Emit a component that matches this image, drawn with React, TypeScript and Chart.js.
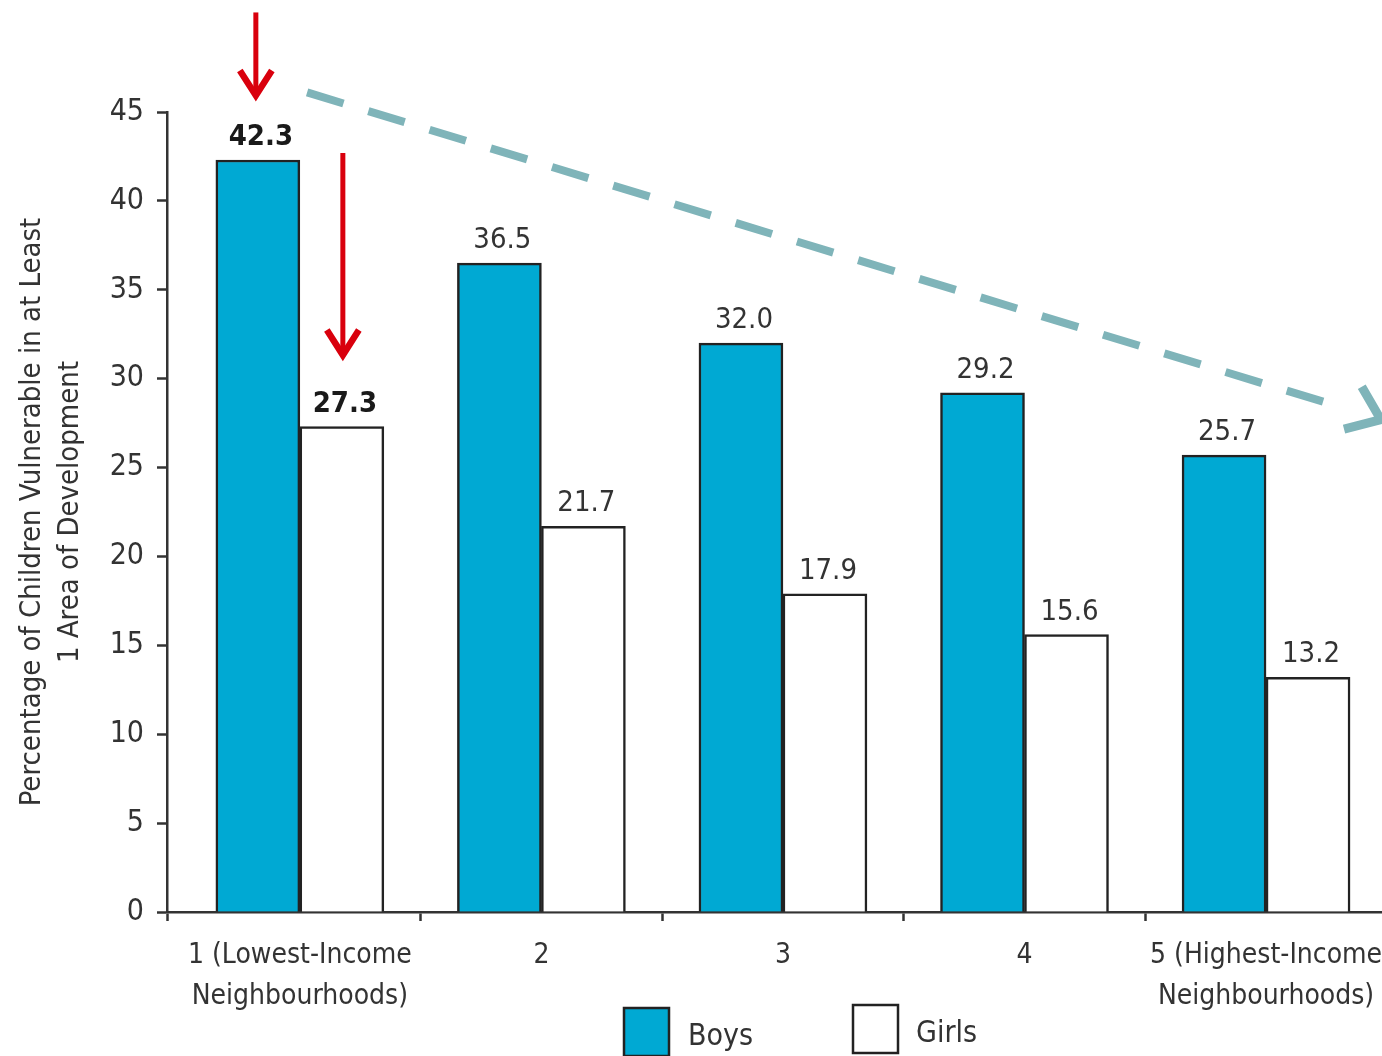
import React, { useEffect, useRef } from "react";
import { Chart, registerables } from "chart.js";

Chart.register(...registerables);

// ---- data ----
const categoryLabels: (string | string[])[] = [
  ["1 (Lowest-Income", "Neighbourhoods)"],
  "2",
  "3",
  "4",
  ["5 (Highest-Income", "Neighbourhoods)"],
];
const categoryPositions = [1, 2, 3, 4, 5];
const seriesNames = ["Boys", "Girls"];
const boysValues = [42.3, 36.5, 32.0, 29.2, 25.7];
const girlsValues = [27.3, 21.7, 17.9, 15.6, 13.2];
const boldLabelIndex = [0];
const yTickValues = [0, 5, 10, 15, 20, 25, 30, 35, 40, 45];
const categoryDividers = [1.5, 2.5, 3.5, 4.5];
const yTitleLines = ["Percentage of Children Vulnerable in at Least", "1 Area of Development"];
// trend arrow (scale units): start and end
const trendArrow = { x0: 1.03, y0: 46.1, x1: 5.475, y1: 27.7 };
// red arrows (y scale units): top, tip
const redArrowBoys = { top: 50.6, tip: 45.7 };
const redArrowGirls = { top: 42.7, tip: 31.1 };

const FONT = "'Liberation Sans Narrow', 'Arial Narrow', 'DejaVu Sans Condensed', sans-serif";
const BOYS_COLOR = "#00a9d3";
const GIRLS_COLOR = "#ffffff";
const EDGE = "#222222";
const TEXT = "#333333";

const overlayPlugin = {
  id: "overlay",
  afterDatasetsDraw(chart: any) {
    const ctx = chart.ctx as CanvasRenderingContext2D;
    const xs = chart.scales.x;
    const ys = chart.scales.y;

    // value labels
    ctx.save();
    ctx.textAlign = "center";
    ctx.textBaseline = "alphabetic";
    chart.data.datasets.forEach((ds: any, di: number) => {
      const meta = chart.getDatasetMeta(di);
      meta.data.forEach((bar: any, i: number) => {
        const v = ds.data[i].y;
        const bold = boldLabelIndex.includes(i);
        ctx.font = `${bold ? "bold " : ""}29px ${FONT}`;
        ctx.fillStyle = bold ? "#1a1a1a" : TEXT;
        ctx.fillText(v.toFixed(1), bar.x + 3, bar.y - 15);
      });
    });
    ctx.restore();

    // red arrows
    const drawRed = (x: number, top: number, tip: number) => {
      const yTop = ys.getPixelForValue(top);
      const yTip = ys.getPixelForValue(tip);
      ctx.save();
      ctx.strokeStyle = "#d9000d";
      ctx.lineWidth = 5;
      ctx.lineCap = "butt";
      ctx.beginPath();
      ctx.moveTo(x, yTop);
      ctx.lineTo(x, yTip - 6);
      ctx.stroke();
      ctx.lineWidth = 6.5;
      ctx.lineJoin = "miter";
      ctx.beginPath();
      ctx.moveTo(x - 16, yTip - 29);
      ctx.lineTo(x, yTip - 4);
      ctx.lineTo(x + 16, yTip - 29);
      ctx.stroke();
      ctx.restore();
    };
    const boysMeta = chart.getDatasetMeta(0);
    const girlsMeta = chart.getDatasetMeta(1);
    drawRed(boysMeta.data[0].x - 2, redArrowBoys.top, redArrowBoys.tip);
    drawRed(girlsMeta.data[0].x + 1, redArrowGirls.top, redArrowGirls.tip);

    // dashed trend arrow
    const ax0 = xs.getPixelForValue(trendArrow.x0);
    const ay0 = ys.getPixelForValue(trendArrow.y0);
    const ax1 = xs.getPixelForValue(trendArrow.x1);
    const ay1 = ys.getPixelForValue(trendArrow.y1);
    ctx.save();
    ctx.strokeStyle = "#7fb4b9";
    ctx.lineWidth = 8;
    ctx.setLineDash([38, 26]);
    ctx.beginPath();
    ctx.moveTo(ax0, ay0);
    ctx.lineTo(ax1 - 45, ay1 - 14);
    ctx.stroke();
    ctx.setLineDash([]);
    const ang = Math.atan2(ay1 - ay0, ax1 - ax0);
    const hl = 38;
    ctx.lineWidth = 9;
    ctx.lineJoin = "miter";
    ctx.beginPath();
    ctx.moveTo(ax1 - hl * Math.cos(ang - 0.55), ay1 - hl * Math.sin(ang - 0.55));
    ctx.lineTo(ax1, ay1);
    ctx.lineTo(ax1 - hl * Math.cos(ang + 0.75), ay1 - hl * Math.sin(ang + 0.75));
    ctx.stroke();
    ctx.restore();

    // legend
    ctx.save();
    const items = [
      { x: 624, y: 1008, color: BOYS_COLOR, tx: 688 },
      { x: 853, y: 1005, color: GIRLS_COLOR, tx: 916 },
    ];
    items.forEach((it, i) => {
      ctx.fillStyle = it.color;
      ctx.fillRect(it.x, it.y, 45, 48);
      ctx.strokeStyle = EDGE;
      ctx.lineWidth = 2.5;
      ctx.strokeRect(it.x, it.y, 45, 48);
      ctx.font = `30px ${FONT}`;
      ctx.fillStyle = TEXT;
      ctx.textAlign = "left";
      ctx.textBaseline = "alphabetic";
      ctx.fillText(chart.data.datasets[i].label, it.tx, it.y + 37);
    });
    ctx.restore();
  },
};

export default function App() {
  const ref = useRef<HTMLCanvasElement | null>(null);

  useEffect(() => {
    if (!ref.current) return;
    const chart = new Chart(ref.current, {
      type: "bar",
      data: {
        datasets: [
          {
            label: seriesNames[0],
            data: categoryPositions.map((x, i) => ({ x, y: boysValues[i] })),
            backgroundColor: BOYS_COLOR,
            borderColor: EDGE,
            borderWidth: 2.5,
            borderSkipped: "bottom",
            barThickness: 84,
          },
          {
            label: seriesNames[1],
            data: categoryPositions.map((x, i) => ({ x, y: girlsValues[i] })),
            backgroundColor: GIRLS_COLOR,
            borderColor: EDGE,
            borderWidth: 2.5,
            borderSkipped: "bottom",
            barThickness: 84,
          },
        ],
      },
      options: {
        animation: false,
        responsive: false,
        devicePixelRatio: 1,
        layout: { padding: { top: 112, right: 0, left: 0, bottom: 0 } },
        plugins: {
          legend: { display: false },
          tooltip: { enabled: false },
        },
        scales: {
          x: {
            type: "linear",
            offset: false,
            min: 0.45,
            max: 5.48,
            afterFit: (s: any) => {
              s.height = 144;
              s.paddingLeft = 0;
              s.paddingRight = 0;
            },
            afterBuildTicks: (s: any) => {
              s.ticks = [0.45, ...categoryPositions, ...categoryDividers]
                .sort((a, b) => a - b)
                .map((v) => ({ value: v }));
            },
            ticks: {
              autoSkip: false,
              maxRotation: 0,
              padding: 14,
              color: TEXT,
              font: { family: FONT, size: 28, lineHeight: 41 / 28 },
              callback: (v: any) => {
                const idx = categoryPositions.indexOf(Number(v));
                return idx >= 0 ? categoryLabels[idx] : "";
              },
            },
            grid: {
              offset: false,
              drawOnChartArea: false,
              tickLength: 9,
              tickWidth: 2.5,
              tickColor: (c: any) =>
                c.tick && categoryPositions.includes(c.tick.value) ? "rgba(0,0,0,0)" : "#333",
            },
            border: { color: "#333", width: 2.5 },
          },
          y: {
            min: 0,
            max: 45,
            afterFit: (s: any) => {
              s.width = 167;
              s.paddingTop = 0;
              s.paddingBottom = 0;
            },
            afterBuildTicks: (s: any) => {
              s.ticks = yTickValues.map((v) => ({ value: v }));
            },
            ticks: {
              padding: 13,
              color: TEXT,
              font: { family: FONT, size: 30 },
            },
            grid: {
              drawOnChartArea: false,
              tickLength: 10,
              tickWidth: 2.5,
              tickColor: "#333",
            },
            border: { color: "#333", width: 2.5 },
            title: {
              display: true,
              text: yTitleLines,
              color: TEXT,
              padding: { top: 13, bottom: 0 },
              font: { family: FONT, size: 29, lineHeight: 38 / 29 },
            },
          },
        },
      },
      plugins: [overlayPlugin],
    } as any);
    return () => chart.destroy();
  }, []);

  return (
    <div
      style={{
        position: "absolute",
        left: 0,
        top: 0,
        width: 1382,
        height: 1056,
        overflow: "hidden",
        background: "#fff",
      }}
    >
      <canvas ref={ref} width={1382} height={1056} style={{ display: "block" }} />
    </div>
  );
}
